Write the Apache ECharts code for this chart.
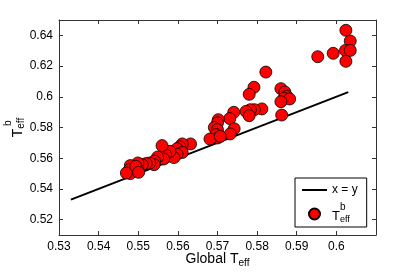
<!DOCTYPE html>
<html>
<head>
<meta charset="utf-8">
<script src="https://cdn.jsdelivr.net/npm/echarts@6/dist/echarts.min.js"></script>
<style>html,body{margin:0;padding:0;background:#fff}#c{width:415px;height:278px}</style>
</head>
<body>
<div id="c"></div>
<script>
// Global Teff (x) and Teff^b (y)
const globalTeff = [0.6024,0.6035,0.6023,0.6035,0.6024,0.5992,0.5953,0.5822,0.5792,0.5780,
  0.5860,0.5870,0.5875,0.5868,0.5882,0.5860,0.5862,0.5812,0.5793,0.5783,
  0.5772,0.5780,0.5741,0.5731,0.5742,0.5732,0.5702,0.5700,0.5692,0.5700,
  0.5696,0.5700,0.5681,0.5707,0.5632,0.5611,0.5605,0.5598,0.5611,0.5598,
  0.5590,0.5580,0.5569,0.5560,0.5564,0.5549,0.5541,0.5540,0.5529,0.5520,
  0.5510,0.5499,0.5499,0.5489,0.5484,0.5480,0.5478,0.5480,0.5470,0.5494,0.5501];
const teffB = [0.6433,0.6363,0.6302,0.6302,0.6231,0.6283,0.6261,0.6161,0.6062,0.6016,
  0.6053,0.6031,0.6003,0.5990,0.5986,0.5968,0.5881,0.5921,0.5916,0.5916,
  0.5905,0.5877,0.5899,0.5858,0.5792,0.5758,0.5851,0.5830,0.5800,0.5786,
  0.5754,0.5732,0.5725,0.5742,0.5693,0.5693,0.5674,0.5662,0.5637,0.5626,
  0.5604,0.5645,0.5623,0.5682,0.5595,0.5608,0.5582,0.5558,0.5569,0.5565,
  0.5558,0.5569,0.5530,0.5515,0.5536,0.5552,0.5526,0.5500,0.5504,0.5547,0.5508];
const lineX = [0.533, 0.603];
const lineY = [0.533, 0.603];
const yTicks = [0.52, 0.54, 0.56, 0.58, 0.60, 0.62, 0.64];
const xTicks = [0.53, 0.54, 0.55, 0.56, 0.57, 0.58, 0.59, 0.60];

const font = 'Liberation Sans, Arial, Helvetica, sans-serif';
const axisCol = '#333';
const fmt = v => String(+v.toFixed(2));

const chart = echarts.init(document.getElementById('c'), null, {renderer: 'canvas'});
const commonX = {
  type: 'value', min: 0.53, max: 0.61, interval: 0.01,
  axisLine: {show: true, lineStyle: {color: axisCol, width: 1}},
  axisTick: {show: true, inside: true, length: 4, lineStyle: {color: axisCol}, customValues: xTicks},
  splitLine: {show: false}
};
const commonY = {
  type: 'value', min: 0.51, max: 0.65,
  axisLine: {show: true, lineStyle: {color: axisCol, width: 1}},
  axisTick: {show: true, inside: true, length: 4, lineStyle: {color: axisCol}, customValues: yTicks},
  splitLine: {show: false}
};
chart.setOption({
  animation: false,
  backgroundColor: '#fff',
  grid: {left: 59, right: 39, top: 20, bottom: 43, containLabel: false, outerBoundsMode: 'none'},
  xAxis: [
    Object.assign({}, commonX, {
      position: 'bottom',
      axisLabel: {show: true, customValues: xTicks, formatter: fmt, fontSize: 12, fontFamily: font, color: '#000', margin: 6},
      name: '{a|Global T}{s|eff}', nameLocation: 'middle', nameGap: 16, nameMoveOverlap: false,
      nameTextStyle: {fontFamily: font, color: '#000', rich: {
        a: {fontSize: 14, fontFamily: font, color: '#000', lineHeight: 16},
        s: {fontSize: 10, fontFamily: font, color: '#000', padding: [9, 0, 0, 0], lineHeight: 16}
      }}
    }),
    Object.assign({}, commonX, {position: 'top', axisLabel: {show: false}})
  ],
  yAxis: [
    Object.assign({}, commonY, {
      position: 'left',
      axisLabel: {show: true, customValues: yTicks, formatter: fmt, fontSize: 12, fontFamily: font, color: '#000', margin: 6},
      name: '{h|T}{p|b}\n{a|T}{s|eff}', nameLocation: 'middle', nameGap: 34, nameRotate: 90, nameMoveOverlap: false,
      nameTextStyle: {fontFamily: font, color: '#000', align: 'center', rich: {
        h: {fontSize: 14, fontFamily: font, color: 'rgba(0,0,0,0)', lineHeight: 6},
        p: {fontSize: 10, fontFamily: font, color: '#000', lineHeight: 6},
        a: {fontSize: 14, fontFamily: font, color: '#000', lineHeight: 14},
        s: {fontSize: 10, fontFamily: font, color: '#000', lineHeight: 14, padding: [7, 0, 0, 0]}
      }}
    }),
    Object.assign({}, commonY, {position: 'right', axisLabel: {show: false}})
  ],
  legend: {
    left: 295, top: 178, orient: 'vertical',
    borderColor: '#000', borderWidth: 1, backgroundColor: '#fff', borderRadius: 0,
    padding: [6, 9, 3, 6], itemGap: 5, itemWidth: 25, itemHeight: 11,
    data: [{name: 'x = y', itemStyle: {opacity: 0, color: 'rgba(0,0,0,0)', borderWidth: 0}}, {name: 'Teff', icon: 'circle'}],
    formatter: name => name === 'Teff' ? '{h|T}{p|b}\n{a|T}{s|eff}' : name,
    textStyle: {fontSize: 12, fontFamily: font, color: '#000', rich: {
      h: {fontSize: 13, fontFamily: font, color: 'rgba(0,0,0,0)', lineHeight: 5},
      p: {fontSize: 10, fontFamily: font, color: '#000', lineHeight: 5},
      a: {fontSize: 13, fontFamily: font, color: '#000', lineHeight: 13},
      s: {fontSize: 9, fontFamily: font, color: '#000', lineHeight: 13, padding: [6, 0, 0, 0]}
    }}
  },
  series: [
    {
      name: 'x = y', type: 'line', symbol: 'none', z: 2,
      data: lineX.map((x, i) => [x, lineY[i]]),
      lineStyle: {color: '#000', width: 2},
      itemStyle: {color: '#000'}
    },
    {
      name: 'Teff', type: 'scatter', z: 3, symbol: 'circle', symbolSize: 12,
      data: globalTeff.map((x, i) => [x, teffB[i]]),
      itemStyle: {color: '#ff0000', borderColor: '#000', borderWidth: 0.8, opacity: 1}
    }
  ]
});
</script>
</body>
</html>
